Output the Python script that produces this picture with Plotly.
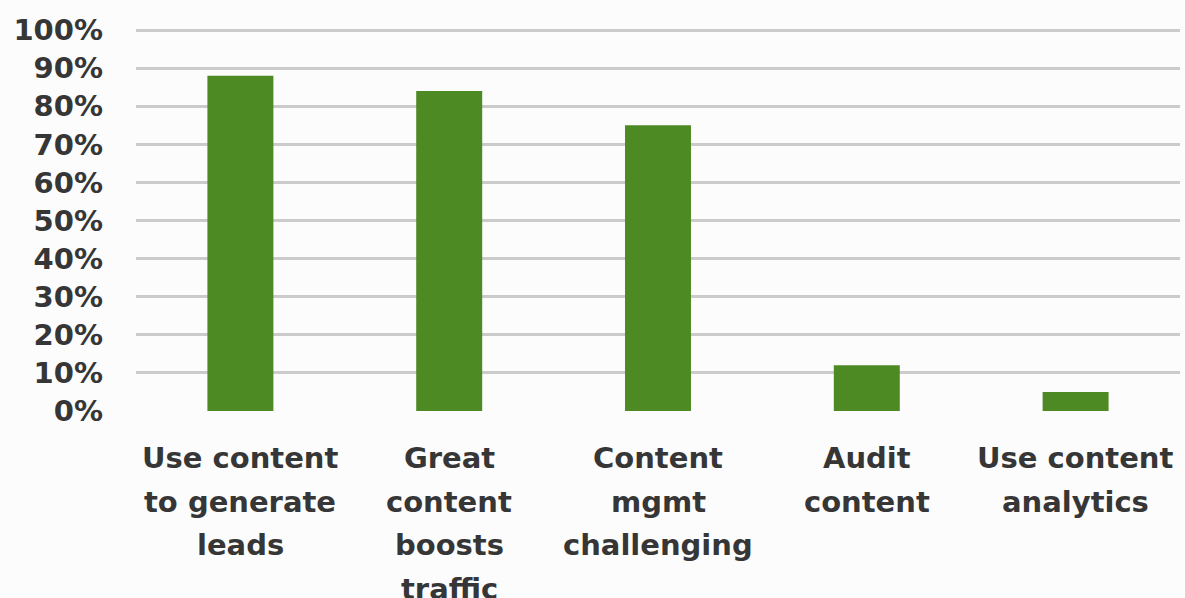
import plotly.graph_objects as go

# Survey results: share of respondents per statement
categories = [
    "Use content\nto generate\nleads",
    "Great\ncontent\nboosts\ntraffic",
    "Content\nmgmt\nchallenging",
    "Audit\ncontent",
    "Use content\nanalytics",
]
values = [88, 84, 75, 12, 5]
y_ticks = [0, 10, 20, 30, 40, 50, 60, 70, 80, 90, 100]
y_tick_labels = [f"{v}%" for v in y_ticks]

BAR_COLOR = "#4e8a24"
TEXT_COLOR = "#363636"
GRID_COLOR = "#cbcbcb"
FONT = "DejaVu Sans"
FONT_SIZE = 29
LINE_STEP = 43.5
Y_MAX = 100.3

keys = [c.replace("\n", " ") for c in categories]

fig = go.Figure(
    go.Bar(
        x=keys,
        y=values,
        marker=dict(color=BAR_COLOR, line=dict(width=0)),
        hoverinfo="skip",
    )
)

# Multi-line category labels, one annotation per line for wider line spacing
annotations = []
for key, label in zip(keys, categories):
    for j, line in enumerate(label.split("\n")):
        annotations.append(
            dict(
                x=key,
                y=0,
                xref="x",
                yref="paper",
                yanchor="top",
                xanchor="center",
                yshift=-(28 + j * LINE_STEP),
                text=line,
                showarrow=False,
                font=dict(family=FONT, size=FONT_SIZE, color=TEXT_COLOR, weight="bold"),
            )
        )

fig.update_layout(
    width=1185,
    height=598,
    margin=dict(l=136, r=5, t=28.9, b=186.5),
    paper_bgcolor="#fcfcfc",
    plot_bgcolor="#fcfcfc",
    bargap=0.684,
    showlegend=False,
    annotations=annotations,
    font=dict(family=FONT, size=FONT_SIZE, color=TEXT_COLOR, weight="bold"),
)
fig.update_xaxes(
    showticklabels=False,
    showgrid=False,
    zeroline=False,
    showline=False,
    fixedrange=True,
)
fig.update_yaxes(
    range=[0, Y_MAX],
    tickvals=y_ticks,
    ticktext=y_tick_labels,
    showgrid=True,
    gridcolor=GRID_COLOR,
    gridwidth=2.5,
    zeroline=False,
    showline=False,
    ticks="",
    ticklabelstandoff=32,
    tickfont=dict(family=FONT, size=FONT_SIZE, color=TEXT_COLOR, weight="bold"),
    fixedrange=True,
)

fig.write_html("out.html")
